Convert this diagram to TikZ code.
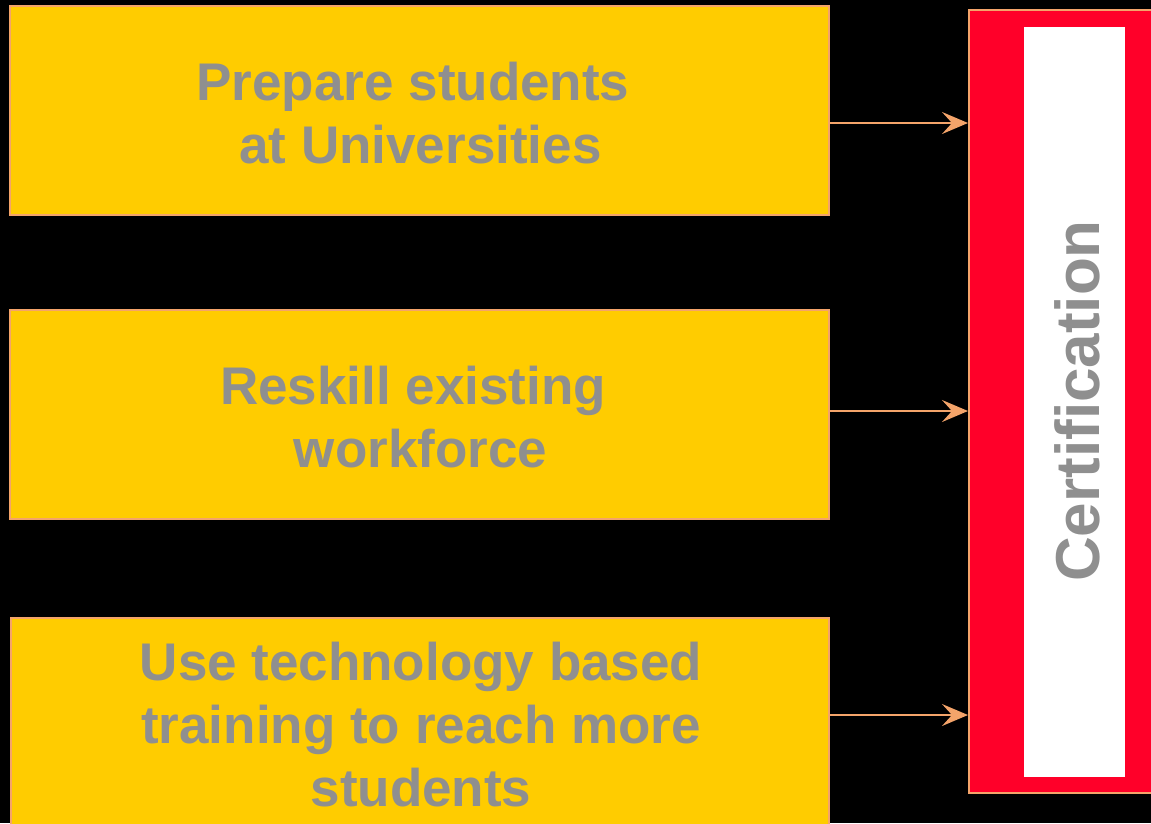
\documentclass[tikz,border=0pt]{standalone}
\usepackage{fontspec}
\setmainfont{Liberation Sans}
\usetikzlibrary{arrows.meta}
\definecolor{boxyellow}{HTML}{FFCC00}
\definecolor{edgeorange}{HTML}{F4A46A}
\definecolor{txtgray}{HTML}{8F8F8F}
\definecolor{certred}{HTML}{FF0029}
\tikzset{
  ybox/.style={draw=edgeorange, line width=2pt, fill=boxyellow},
  btxt/.style={text=txtgray, font=\fontsize{53}{63}\selectfont\bfseries, align=center},
  ctxt/.style={text=txtgray, font=\fontsize{62}{70}\selectfont\bfseries},
  conn/.style={draw=edgeorange, line width=2pt, -{Stealth[length=26pt,width=22pt,inset=10pt]}}
}
\begin{document}
\begin{tikzpicture}[x=1pt,y=-1pt]
\useasboundingbox (0,0) rectangle (1151,823);
\fill[black] (0,0) rectangle (1151,823);
\begin{scope}
\clip (0,0) rectangle (1151,823);
\draw[ybox] (10,6) rectangle (829,215);
\draw[ybox] (10,310) rectangle (829,519);
\draw[ybox] (11,618) rectangle (829,840);
\draw[draw=edgeorange, line width=2pt, fill=certred] (969,10) rectangle (1170,793);
\fill[white] (1024,27) rectangle (1125,777);
\node[btxt] (t1) at (413,113) {Prepare students\\\hspace*{15pt}at Universities};
\node[btxt] (t2) at (413,417) {Reskill existing\\\hspace*{15pt}workforce};
\node[btxt] (t3) at (421,725) {Use technology based\\training to reach more\\students};
\node[ctxt, rotate=90] (cert) at (1077,401) {Certification};
\coordinate (a1) at (830,123);
\coordinate (b1) at (968,123);
\coordinate (a2) at (830,411);
\coordinate (b2) at (968,411);
\coordinate (a3) at (830,715);
\coordinate (b3) at (968,715);
\draw[conn] (a1) -- (b1);
\draw[conn] (a2) -- (b2);
\draw[conn] (a3) -- (b3);
\end{scope}
\end{tikzpicture}
\end{document}
